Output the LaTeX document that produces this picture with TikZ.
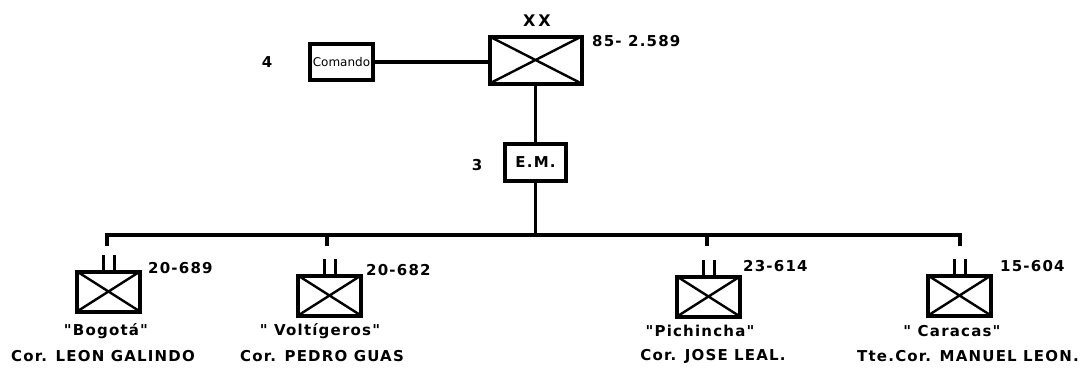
\documentclass[tikz,border=0pt]{standalone}
\usepackage{fontspec}
\setmainfont{DejaVu Sans}
\newfontfamily\letterfont[LetterSpace=8]{DejaVu Sans}
\newfontfamily\smallfont{DejaVu Sans}
\usetikzlibrary{positioning}

\begin{document}
\begin{tikzpicture}[x=1pt,y=-1pt,
  every node/.style={inner sep=0pt,font=\letterfont\bfseries\fontsize{15}{17}\selectfont},
  unitbox/.style={draw,line width=4pt,minimum width=63pt,minimum height=40pt,
    path picture={\draw[line width=2.4pt]
      (path picture bounding box.north west) -- (path picture bounding box.south east)
      (path picture bounding box.south west) -- (path picture bounding box.north east);}},
  staffbox/.style={draw,line width=4pt},
  link/.style={line width=3.6pt},
  tick/.style={line width=3.2pt}]
\fill[white] (0,0) rectangle (1089,370);
\useasboundingbox (0,0) rectangle (1089,370);

\node[unitbox,minimum width=92pt,minimum height=47pt] (div) at (535.5,60) {};
\node[font=\letterfont\bfseries\fontsize{16}{18}\selectfont] (xx) at (537,21) {X\hspace{3pt}X};
\node[anchor=west] (divstr) at (592,41) {85- 2.589};
\node[staffbox,minimum width=63pt,minimum height=36pt,font=\smallfont\fontsize{12}{14}\selectfont] (cmd) at (341.5,62) {Comando};
\node (cmdn) at (267,62) {4};
\node[staffbox,minimum width=61pt,minimum height=37pt] (em) at (535.5,162.5) {E.M.};
\node (emn) at (477,165) {3};

\draw[link] (cmd.east) -- (cmd.east -| div.west);
\draw[link] (div.south) -- (em.north);
\coordinate (barL) at (105,235);
\coordinate (barR) at (962,235);
\draw[link] (em.south) -- (em.south |- barL);
\draw[link] (barL) -- (barR);

\node[unitbox] (b1) at (108.5,291.5) {};
\node[unitbox] (b2) at (329.5,295.5) {};
\node[unitbox] (b3) at (708.5,296.5) {};
\node[unitbox] (b4) at (959.5,295.5) {};

\foreach \b/\x in {b1/107,b2/327,b3/707,b4/960}{
  \coordinate (\b top) at (\x,235);
  \draw[link] (\b top) -- ++(0,11);
  \draw[tick] ([xshift=-5pt]\b.north) -- ++(0,-15);
  \draw[tick] ([xshift=6pt]\b.north) -- ++(0,-15);
}

\node[anchor=west] (b1str) at (148,268) {20-689};
\node[anchor=west] (b2str) at (366,270) {20-682};
\node[anchor=west] (b3str) at (743,266) {23-614};
\node[anchor=west] (b4str) at (1000,266) {15-604};

\node (b1name) at (106,331) {"Bogotá"};
\node (b1cmd) at (103,356) {Cor. LEON GALINDO};
\node (b2name) at (320,331) {" Voltígeros"};
\node (b2cmd) at (322,356) {Cor. PEDRO GUAS};
\node (b3name) at (700,331) {"Pichincha"};
\node (b3cmd) at (713,356) {Cor. JOSE LEAL.};
\node (b4name) at (952,331) {" Caracas"};
\node (b4cmd) at (968,356) {Tte.Cor. MANUEL LEON.};
\end{tikzpicture}
\end{document}
